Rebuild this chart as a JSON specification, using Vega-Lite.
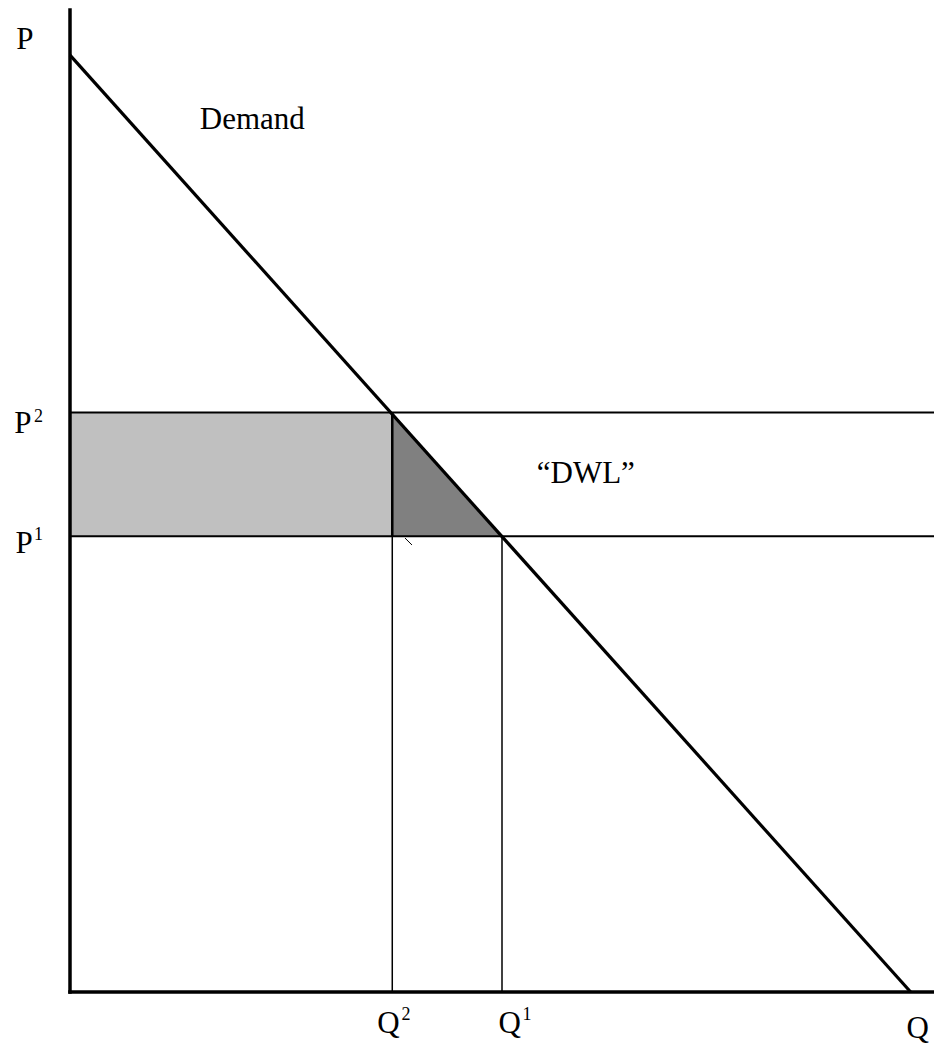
{
  "$schema": "https://vega.github.io/schema/vega-lite/v6.json",
  "width": 864,
  "height": 982,
  "autosize": {"type": "none"},
  "padding": {"left": 70, "top": 10, "right": 0, "bottom": 55},
  "background": "white",
  "config": {"view": {"stroke": null}},
  "datasets": {
    "surplus": [{"q_from": 0, "q_to": 37.3, "p_low": 46.4, "p_high": 59}],
    "dwl": [{"q": 37.3, "p": 59, "base": 46.4}, {"q": 50, "p": 46.4, "base": 46.4}],
    "prices": [{"price": "P2", "p": 59, "q_from": 0, "q_to": 100}, {"price": "P1", "p": 46.4, "q_from": 0, "q_to": 100}],
    "quantities": [{"quantity": "Q2", "q": 37.3, "p_from": 0, "p_to": 59}, {"quantity": "Q1", "q": 50, "p_from": 0, "p_to": 46.4}],
    "edge": [{"q": 37.3, "p_from": 46.4, "p_to": 59}],
    "demand": [{"q": 0, "p": 95.4}, {"q": 97.3, "p": 0}],
    "axes": [{"q": 0, "q2": 0, "p": 0, "p2": 100}, {"q": 0, "q2": 100, "p": 0, "p2": 0}],
    "stray": [{"q": 38.77, "q2": 39.58, "p": 46.23, "p2": 45.52}],
    "labels": [
      {"text": "P", "q": -5.21, "p": 96.0},
      {"text": "Demand", "q": 21.1, "p": 87.9},
      {"text": "P", "q": -5.44, "p": 56.9},
      {"text": "P", "q": -5.32, "p": 44.7},
      {"text": "Q", "q": 36.86, "p": -4.18},
      {"text": "Q", "q": 50.9, "p": -4.18},
      {"text": "Q", "q": 98.1, "p": -4.7},
      {"text": "“DWL”", "q": 59.7, "p": 51.8}
    ],
    "sups": [
      {"text": "2", "q": -3.65, "p": 58.0},
      {"text": "1", "q": -3.65, "p": 46.0},
      {"text": "2", "q": 38.9, "p": -2.85},
      {"text": "1", "q": 52.9, "p": -2.85}
    ]
  },
  "layer": [
    {
      "data": {"name": "surplus"},
      "mark": {"type": "rect", "fill": "#c0c0c0"},
      "encoding": {
        "x": {"field": "q_from", "type": "quantitative", "scale": {"domain": [0, 100], "nice": false, "zero": false}, "axis": null},
        "x2": {"field": "q_to"},
        "y": {"field": "p_low", "type": "quantitative", "scale": {"domain": [0, 100], "nice": false, "zero": false}, "axis": null},
        "y2": {"field": "p_high"}
      }
    },
    {
      "data": {"name": "dwl"},
      "mark": {"type": "area", "fill": "#808080", "interpolate": "linear"},
      "encoding": {
        "x": {"field": "q", "type": "quantitative"},
        "y": {"field": "p", "type": "quantitative"},
        "y2": {"field": "base"}
      }
    },
    {
      "data": {"name": "prices"},
      "mark": {"type": "rule", "stroke": "black", "strokeWidth": 2},
      "encoding": {
        "x": {"field": "q_from", "type": "quantitative"},
        "x2": {"field": "q_to"},
        "y": {"field": "p", "type": "quantitative"}
      }
    },
    {
      "data": {"name": "quantities"},
      "mark": {"type": "rule", "stroke": "black", "strokeWidth": 1.5},
      "encoding": {
        "x": {"field": "q", "type": "quantitative"},
        "y": {"field": "p_from", "type": "quantitative"},
        "y2": {"field": "p_to"}
      }
    },
    {
      "data": {"name": "edge"},
      "mark": {"type": "rule", "stroke": "black", "strokeWidth": 2.5},
      "encoding": {
        "x": {"field": "q", "type": "quantitative"},
        "y": {"field": "p_from", "type": "quantitative"},
        "y2": {"field": "p_to"}
      }
    },
    {
      "data": {"name": "stray"},
      "mark": {"type": "rule", "stroke": "black", "strokeWidth": 1},
      "encoding": {
        "x": {"field": "q", "type": "quantitative"},
        "x2": {"field": "q2"},
        "y": {"field": "p", "type": "quantitative"},
        "y2": {"field": "p2"}
      }
    },
    {
      "data": {"name": "demand"},
      "mark": {"type": "line", "stroke": "black", "strokeWidth": 3.2},
      "encoding": {
        "x": {"field": "q", "type": "quantitative"},
        "y": {"field": "p", "type": "quantitative"}
      }
    },
    {
      "data": {"name": "axes"},
      "mark": {"type": "rule", "stroke": "black", "strokeWidth": 3.5, "strokeCap": "square"},
      "encoding": {
        "x": {"field": "q", "type": "quantitative"},
        "x2": {"field": "q2"},
        "y": {"field": "p", "type": "quantitative"},
        "y2": {"field": "p2"}
      }
    },
    {
      "data": {"name": "labels"},
      "mark": {"type": "text", "font": "Liberation Serif", "fontSize": 31, "baseline": "alphabetic", "align": "center", "color": "black"},
      "encoding": {
        "x": {"field": "q", "type": "quantitative"},
        "y": {"field": "p", "type": "quantitative"},
        "text": {"field": "text"}
      }
    },
    {
      "data": {"name": "sups"},
      "mark": {"type": "text", "font": "Liberation Serif", "fontSize": 18, "baseline": "alphabetic", "align": "center", "color": "black"},
      "encoding": {
        "x": {"field": "q", "type": "quantitative"},
        "y": {"field": "p", "type": "quantitative"},
        "text": {"field": "text"}
      }
    }
  ]
}
